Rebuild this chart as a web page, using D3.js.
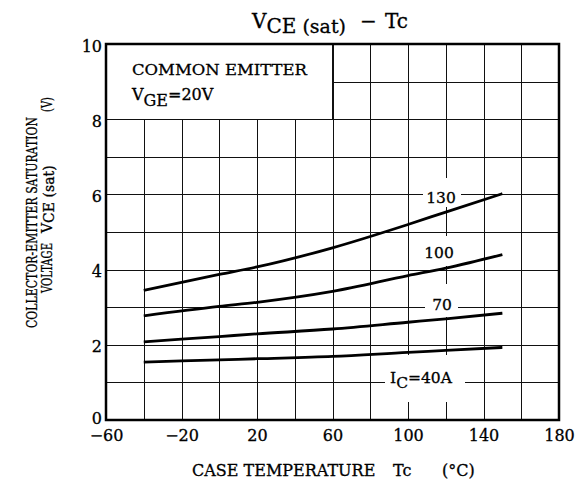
<!DOCTYPE html>
<html>
<head>
<meta charset="utf-8">
<script src="https://cdn.jsdelivr.net/npm/d3@7/dist/d3.min.js"></script>
<style>
  html, body { margin: 0; padding: 0; background: #fff; }
  svg { display: block; }
  text { font-family: "DejaVu Serif", "Liberation Serif", serif; fill: #000; stroke: #000; stroke-width: 0.3px; }
</style>
</head>
<body>
<svg id="chart" width="580" height="482"></svg>
<script>
// ---- data ----
const temps = [-40, 0, 20, 60, 100, 120, 150];
const ic130 = [3.45, 3.87, 4.07, 4.58, 5.20, 5.53, 6.02];
const ic100 = [2.77, 3.02, 3.13, 3.42, 3.84, 4.04, 4.40];
const ic70  = [2.08, 2.22, 2.29, 2.42, 2.60, 2.69, 2.84];
const ic40  = [1.54, 1.60, 1.63, 1.69, 1.80, 1.85, 1.93];
const seriesNames = ["130", "100", "70", "IC=40A"];
const xTickLabels = [-60, -20, 20, 60, 100, 140, 180];
const yTickLabels = [0, 2, 4, 6, 8, 10];
const xGrid = [-40, -20, 0, 20, 40, 60, 80, 100, 120, 140, 160];
const yGrid = [1, 2, 3, 4, 5, 6, 7, 8, 9];

const svg = d3.select("#chart");
const x = d3.scaleLinear().domain([-60, 180]).range([106, 559]);
const y = d3.scaleLinear().domain([0, 10]).range([420, 44]);

// grid
const grid = svg.append("g").attr("shape-rendering", "crispEdges").attr("stroke", "#111").attr("stroke-width", 1);
grid.selectAll("line.v").data(xGrid).join("line")
  .attr("x1", d => Math.round(x(d)) + 0.5).attr("x2", d => Math.round(x(d)) + 0.5)
  .attr("y1", y(10)).attr("y2", y(0));
grid.selectAll("line.h").data(yGrid).join("line")
  .attr("y1", d => Math.round(y(d)) + 0.5).attr("y2", d => Math.round(y(d)) + 0.5)
  .attr("x1", x(-60)).attr("x2", x(180));

// legend box (covers grid)
svg.append("rect")
  .attr("x", x(-60)).attr("y", y(10))
  .attr("width", x(60) - x(-60)).attr("height", y(8) - y(10))
  .attr("fill", "#fff").attr("stroke", "#111").attr("stroke-width", 1)
  .attr("shape-rendering", "crispEdges");

const legend = svg.append("g");
legend.append("text").attr("x", 132).attr("y", 75).attr("font-size", 15.5)
  .attr("textLength", 175).attr("lengthAdjust", "spacingAndGlyphs").text("COMMON EMITTER");
const vge = legend.append("text").attr("x", 132).attr("y", 100).attr("font-size", 16);
vge.append("tspan").text("V");
vge.append("tspan").attr("dy", 6).text("GE");
vge.append("tspan").attr("dy", -6).text("=20V");

// white backgrounds for curve labels (gaps in grid)
const labelBoxes = [
  { x0: 423, x1: 461, y0: 178, y1: 207 },
  { x0: 420, x1: 458, y0: 236, y1: 266 },
  { x0: 425, x1: 458, y0: 284, y1: 317 },
  { x0: 385, x1: 465, y0: 355, y1: 402 }
];
svg.append("g").selectAll("rect").data(labelBoxes).join("rect")
  .attr("x", d => d.x0).attr("y", d => d.y0)
  .attr("width", d => d.x1 - d.x0).attr("height", d => d.y1 - d.y0)
  .attr("fill", "#fff");

// curves
const series = [ic130, ic100, ic70, ic40];
const line = d3.line().x((d, i) => x(temps[i])).y(d => y(d)).curve(d3.curveMonotoneX);
svg.append("g").selectAll("path").data(series).join("path")
  .attr("d", d => line(d))
  .attr("fill", "none").attr("stroke", "#000").attr("stroke-width", 2.8)
  .attr("stroke-linecap", "butt");

// curve labels
const lab = svg.append("g").attr("font-size", 15.5);
lab.append("text").attr("x", 441).attr("y", 203).attr("text-anchor", "middle").text(seriesNames[0]);
lab.append("text").attr("x", 439).attr("y", 258).attr("text-anchor", "middle").text(seriesNames[1]);
lab.append("text").attr("x", 442).attr("y", 310).attr("text-anchor", "middle").text(seriesNames[2]);
const icl = lab.append("text").attr("x", 390).attr("y", 383);
icl.append("tspan").text("I");
icl.append("tspan").attr("dy", 5).text("C");
icl.append("tspan").attr("dy", -5).text("=40A");

// frame
svg.append("rect")
  .attr("x", x(-60)).attr("y", y(10))
  .attr("width", x(180) - x(-60)).attr("height", y(0) - y(10))
  .attr("fill", "none").attr("stroke", "#000").attr("stroke-width", 2.5);

// axes
const fmt = d => (d < 0 ? "\u2212" + Math.abs(d) : String(d));
const xAxis = svg.append("g").attr("transform", `translate(0,${y(0)})`)
  .call(d3.axisBottom(x).tickValues(xTickLabels).tickSize(0).tickPadding(0).tickFormat(fmt));
xAxis.select(".domain").remove();
xAxis.selectAll("text").attr("font-family", "DejaVu Serif").attr("font-size", 16).attr("fill", "#000")
  .attr("dy", null).attr("y", 21);

const yAxis = svg.append("g").attr("transform", `translate(102,0)`)
  .call(d3.axisLeft(y).tickValues(yTickLabels).tickSize(0).tickPadding(0).tickFormat(fmt));
yAxis.select(".domain").remove();
yAxis.selectAll("text").attr("font-family", "DejaVu Serif").attr("font-size", 16).attr("fill", "#000")
  .attr("dy", null).attr("y", d => (d === 0 ? 3 : 7)).attr("x", 0);

// title
const title = svg.append("text").attr("x", 252).attr("y", 28).attr("font-size", 20);
title.append("tspan").text("V");
title.append("tspan").attr("dy", 5).text("CE");
title.append("tspan").attr("font-size", 19).text(" (sat)");
title.append("tspan").attr("dy", -5).attr("x", 360).text("\u2212");
title.append("tspan").attr("x", 385).text("Tc");

// x axis label
const xl = svg.append("text").attr("y", 476).attr("font-size", 16);
xl.append("tspan").attr("x", 192).text("CASE TEMPERATURE");
xl.append("tspan").attr("x", 393).text("Tc");
xl.append("tspan").attr("x", 442).text("(\u00B0C)");

// y axis label (rotated)
const yl = svg.append("g").attr("font-size", 14);
yl.append("text").attr("transform", "translate(36.5,328) rotate(-90)")
  .attr("textLength", 211).attr("lengthAdjust", "spacingAndGlyphs")
  .text("COLLECTOR-EMITTER SATURATION");
yl.append("text").attr("transform", "translate(51.5,293) rotate(-90)")
  .attr("textLength", 50).attr("lengthAdjust", "spacingAndGlyphs")
  .text("VOLTAGE");
const yv = yl.append("text").attr("transform", "translate(51.5,233) rotate(-90)");
yv.append("tspan").text("V");
yv.append("tspan").attr("dy", 2).attr("font-size", 14).text("CE (sat)");
yl.append("text").attr("transform", "translate(51.5,112) rotate(-90)")
  .attr("textLength", 15).attr("lengthAdjust", "spacingAndGlyphs")
  .text("(V)");
</script>
</body>
</html>
